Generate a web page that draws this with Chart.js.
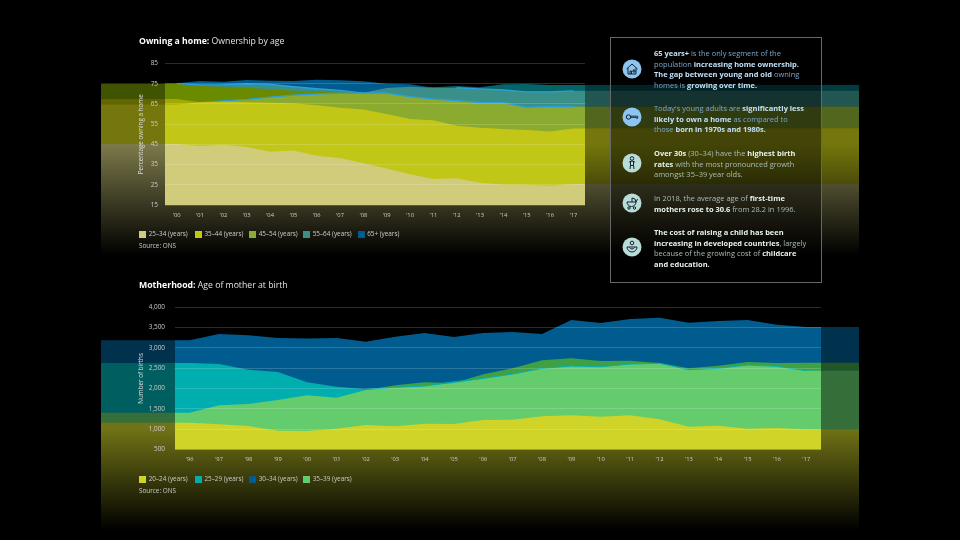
<!DOCTYPE html>
<html lang="en">
<head>
<meta charset="UTF-8">
<title>Owning a home and motherhood</title>
<script src="https://cdn.jsdelivr.net/npm/chart.js@4/dist/chart.umd.min.js"></script>
<style>
    html, body { margin: 0; background: #000; }
    body { width: 960px; height: 540px; position: relative; overflow: hidden; font-family: "Open Sans", sans-serif; color: #ddd; }
    canvas { position: absolute; left: 101px; }
    #homeChart { top: 40px; }
    #birthChart { top: 290px; }
    .title { position: absolute; left: 139px; font-size: 8.7px; line-height: 14px; white-space: nowrap; color: #e4e4e4; }
    .title b { color: #fff; }
    .swatch { position: absolute; width: 7px; height: 7px; }
    .legend, .source { position: absolute; font-size: 6.35px; line-height: 10px; white-space: nowrap; color: #ccc; }
    .panel { position: absolute; left: 610px; top: 37px; width: 210px; height: 244px; border: 1px solid #666; background: rgba(0,0,0,.42); }
    .note { position: absolute; left: 654px; font-size: 7.47px; line-height: 10.6px; white-space: nowrap; }
    .blue { color: #7ba6c9; } .blue b { color: #bfe0f7; }
    .pale { color: #a9bdb6; } .pale b { color: #e6f2ec; }
    .icon { position: absolute; left: 622px; width: 20px; height: 20px; }
</style>
</head>
<body>
<canvas id="homeChart" width="758" height="215"></canvas>
<canvas id="birthChart" width="758" height="240"></canvas>

<div class="title" style="top:34px"><b>Owning a home:</b> Ownership by age</div>
<div class="title" style="top:278px"><b>Motherhood:</b> Age of mother at birth</div>
<div id="homeLegend"></div>
<div id="birthLegend"></div>
<div class="source" style="left:139px;top:241px">Source: ONS</div>
<div class="source" style="left:139px;top:486px">Source: ONS</div>

<div class="panel"></div>
<div class="note blue" style="top:48px"><b>65 years+</b> is the only segment of the<br>population <b>increasing home ownership.<br>The gap between young and old</b> owning<br>homes is <b>growing over time.</b></div>
<div class="note blue" style="top:103px">Today's young adults are <b>significantly less<br>likely to own a home</b> as compared to<br>those <b>born in 1970s and 1980s.</b></div>
<div class="note pale" style="top:148px"><b>Over 30s</b> (30–34) have the <b>highest birth<br>rates</b> with the most pronounced growth<br>amongst 35–39 year olds.</div>
<div class="note pale" style="top:193px">In 2018, the average age of <b>first-time<br>mothers rose to 30.6</b> from 28.2 in 1996.</div>
<div class="note pale" style="top:227px"><b>The cost of raising a child has been<br>increasing in developed countries</b>, largely<br>because of the growing cost of <b>childcare<br>and education.</b></div>

<svg class="icon" style="top:59px" viewBox="0 0 20 20"><circle cx="10" cy="10" r="9.5" fill="#8ec5f0"/><path d="M4.5 10 10 5l5.500 5M6 9v6h8V9M8 15v-3h1.500v3M11 11h2v2h-2z" fill="none" stroke="#123" stroke-width="1"/></svg>
<svg class="icon" style="top:107px" viewBox="0 0 20 20"><circle cx="10" cy="10" r="9.500" fill="#8ec5f0"/><circle cx="6.500" cy="10" r="2.200" fill="none" stroke="#123"/><path d="M8.700 9.200h7v2h-1.500v-.8h-5.500" fill="none" stroke="#123" stroke-width=".9"/></svg>
<svg class="icon" style="top:153px" viewBox="0 0 20 20"><circle cx="10" cy="10" r="9.500" fill="#b9dcd8"/><circle cx="10" cy="5.500" r="1.800" fill="none" stroke="#123"/><path d="M7 9l3-1 3 1M8.500 8.500v4h3v-4M8.500 12.500 8 16M11.500 12.500l.5 3.500" fill="none" stroke="#123"/></svg>
<svg class="icon" style="top:193px" viewBox="0 0 20 20"><circle cx="10" cy="10" r="9.500" fill="#b9dcd8"/><path d="M5 9h9a4.500 4.500 0 0 1-9 0zM10 9V5a4 4 0 0 1 4 4M14 9l1.500-3" fill="none" stroke="#123"/><circle cx="7" cy="15" r="1.200" fill="none" stroke="#123"/><circle cx="12.500" cy="15" r="1.200" fill="none" stroke="#123"/></svg>
<svg class="icon" style="top:237px" viewBox="0 0 20 20"><circle cx="10" cy="10" r="9.500" fill="#b9dcd8"/><circle cx="10" cy="6" r="1.800" fill="none" stroke="#123"/><path d="M5 10h10a5 5 0 0 1-10 0zM7.500 10.500c1 2 4 2 5 0" fill="none" stroke="#123"/></svg>

<script>
    // Ownership by age, percent
    const homeYears = ["'00","'01","'02","'03","'04","'05","'06","'07","'08","'09","'10","'11","'12","'13","'14","'15","'16","'17"];
    const own2534 = [45.2,44.2,44.8,43.7,41.4,41.9,39.4,38.3,35.6,33.1,30.2,27.9,28.2,26,25.2,25,24.5,25.4];
    const own3544 = [67.4,65.8,66.1,65.8,65.6,65.3,64.3,63.1,62.3,60,57.5,56.9,54.2,53.2,52.6,52.1,51.3,52.9];
    const own4554 = [74.9,74.4,74.5,74.9,74.7,73.5,72.5,71.7,70.3,70.3,68.6,67.4,66.6,65.6,65.6,63.3,63.8,63.6];
    const own4554Solid = [74.9,73.9,73.5,73,72.3,71.5,71.2,71,70.3,70.3,68.6,67.4,66.6,65.6,65.6,63.3,63.8,63.6];
    const own5564 = [75.2,76.3,76,76.8,76.5,76.3,77,76.7,76.2,75,74.7,73,73,72.4,71.9,71,71,71.5];
    const own65 = [64.7,65.8,66.5,67.3,68.4,69.4,69.9,70.3,70.5,72.9,73.5,73.2,73.9,73.2,74.7,74.9,74.4,74.4];
    const homeTicks = [15,25,35,45,55,65,75,85];

    // Births by age of mother
    const birthYears = ["'96","'97","'98","'99","'00","'01","'02","'03","'04","'05","'06","'07","'08","'09","'10","'11","'12","'13","'14","'15","'16","'17"];
    const age2024 = [1159,1120,1078,962,955,1012,1103,1071,1135,1127,1226,1233,1317,1341,1307,1341,1243,1061,1086,1012,1029,996];
    const age2529 = [2628,2603,2463,2406,2153,2045,1981,2030,2062,2168,2250,2357,2497,2554,2537,2603,2620,2463,2497,2578,2546,2438];
    const age3034 = [3190,3345,3310,3245,3235,3245,3150,3275,3370,3270,3370,3390,3345,3690,3615,3710,3745,3620,3665,3690,3570,3515];
    const age3539 = [1405,1587,1619,1718,1833,1774,1964,2079,2153,2136,2350,2497,2694,2743,2677,2684,2628,2497,2561,2652,2628,2635];

    const homeLegend = ['25–34 (years)','35–44 (years)','45–54 (years)','55–64 (years)','65+ (years)'];
    const homeLegendColors = ['#d0cc7c','#c2c616','#8aaa30','#3a9088','#005c8f'];
    const birthLegend = ['20–24 (years)','25–29 (years)','30–34 (years)','35–39 (years)'];
    const birthLegendColors = ['#d0d428','#00aeb0','#005c8f','#64cc6c'];

    const BRIGHT = '#2a9fdc';
    const lower = (a, b) => a.map((v, i) => Math.min(v, b[i]));

    // areas run flat out to the plot edges, half a category past first and last year
    function pts(values) {
        const last = values.length - 1;
        return [{x: -0.5, y: values[0]}]
            .concat(values.map((y, x) => ({x, y})))
            .concat([{x: last + 0.5, y: values[last]}]);
    }

    function area(values, color) {
        return { data: pts(values), backgroundColor: color, borderWidth: 0, fill: 'start', pointRadius: 0, tension: 0 };
    }

    // thin edge between two years, no fill
    function edge(values, from, to, color, width) {
        const data = values.map((y, x) => ({x, y})).slice(from, to + 1);
        return { data, borderColor: color, borderWidth: width, fill: false, pointRadius: 0, tension: 0 };
    }

    // the same layers carried on either side of the plot, fading to black
    const strips = {
        id: 'strips',
        beforeDatasetsDraw(chart, args, opts) {
            const {ctx, chartArea: a, scales: {y}} = chart;
            const W = chart.width, H = chart.height;
            ctx.save();
            chart.data.datasets.filter(ds => ds.fill).forEach(ds => {
                ctx.fillStyle = ds.backgroundColor;
                const yl = y.getPixelForValue(ds.data[0].y);
                const yr = y.getPixelForValue(ds.data[ds.data.length - 1].y);
                ctx.fillRect(0, yl, a.left, H - yl);
                ctx.fillRect(a.right, yr, W - a.right, H - yr);
                ctx.fillRect(a.left, a.bottom, a.right - a.left, H - a.bottom);
            });
            const g = ctx.createLinearGradient(0, opts.fadeFrom, 0, H);
            g.addColorStop(0, 'rgba(0,0,0,' + opts.alpha + ')');
            g.addColorStop(1, 'rgba(0,0,0,1)');
            ctx.fillStyle = g;
            ctx.fillRect(0, 0, a.left, H);
            ctx.fillRect(a.right, 0, W - a.right, H);
            ctx.fillRect(a.left, a.bottom, a.right - a.left, H - a.bottom);
            ctx.restore();
        }
    };

    function makeChart(id, datasets, cfg) {
        // later layers go on top
        datasets.forEach((d, i) => { d.order = -i; });
        return new Chart(document.getElementById(id), {
            type: 'line',
            data: { datasets },
            plugins: [strips],
            options: {
                responsive: false,
                animation: false,
                layout: { padding: cfg.padding },
                plugins: { legend: { display: false }, tooltip: { enabled: false }, strips: cfg.strip },
                scales: {
                    x: {
                        type: 'linear',
                        min: -0.5,
                        max: cfg.labels.length - 0.5,
                        grid: { display: false, drawTicks: false },
                        border: { display: false },
                        afterFit: s => { s.height = cfg.padding.xHeight; },
                        afterBuildTicks: s => { s.ticks = cfg.labels.map((l, i) => ({value: i})); },
                        ticks: {
                            autoSkip: false, maxRotation: 0, padding: 6.5, color: '#ccc', z: 1,
                            font: { family: 'Open Sans', size: 5.8 },
                            callback: v => cfg.labels[v]
                        }
                    },
                    y: {
                        min: cfg.min,
                        max: cfg.max,
                        border: { display: false },
                        grid: { color: 'rgba(255,255,255,.17)', lineWidth: 1, z: 1, drawTicks: false },
                        afterFit: s => { s.width = cfg.yWidth; },
                        ticks: {
                            stepSize: cfg.step, padding: cfg.tickGap, color: '#ccc', z: 1,
                            font: { family: 'Open Sans', size: 6.4 },
                            callback: v => v.toLocaleString('en-GB')
                        },
                        title: {
                            display: true, text: cfg.yTitle, color: '#ddd',
                            font: { family: 'Open Sans', size: 6.3 },
                            padding: { top: cfg.titleGap, bottom: 0 }
                        }
                    }
                }
            }
        });
    }

    makeChart('homeChart', [
        area(own65, '#056468'),
        area(own5564, '#005c8f'),
        area(lower(own5564, own65), '#3a9088'),
        edge(own5564, 12, 17, BRIGHT, 1.3),
        area(own4554, '#3a9088'),
        edge(own4554, 0, 17, BRIGHT, 1.3),
        area(own4554Solid, '#6a8a00'),
        area(lower(own65, own4554), '#8aaa30'),
        edge(lower(own65, own4554), 0, 17, BRIGHT, 1.3),
        area(own3544, '#a5a800'),
        area(lower(own3544, own65), '#c2c616'),
        area(own2534, '#d0cc7c')
    ], {
        labels: homeYears, min: homeTicks[0], max: homeTicks[homeTicks.length - 1], step: 10,
        padding: { left: 0, right: 274, top: 23.5, bottom: 0, xHeight: 50 },
        yWidth: 64, tickGap: 7, titleGap: 36, yTitle: 'Percentage owning a home',
        strip: { fadeFrom: 104, alpha: 0.4 }
    });

    makeChart('birthChart', [
        area(age3034, '#005c8f'),
        area(age3539, '#3fa044'),
        area(age2529, '#00aeb0'),
        area(lower(age2529, age3539), '#64cc6c'),
        edge(age2529, 6, 21, '#00aeb0', 0.9),
        area(age2024, '#d0d428')
    ], {
        labels: birthYears, min: 500, max: 4000, step: 500,
        padding: { left: 0, right: 38, top: 17.3, bottom: 0, xHeight: 80.5 },
        yWidth: 74, tickGap: 10, titleGap: 36, yTitle: 'Number of births',
        strip: { fadeFrom: 139, alpha: 0.46 }
    });

    // legends sit over the fading band, spaced as in the original
    const legendX = [139, 194.7, 249, 303, 357.5];
    function fillLegend(id, names, colors, top) {
        const box = document.getElementById(id);
        names.forEach((name, i) => {
            box.insertAdjacentHTML('beforeend',
                '<div class="swatch" style="left:' + legendX[i] + 'px;top:' + (top - 3.5) + 'px;background:' + colors[i] + '"></div>' +
                '<div class="legend" style="left:' + (legendX[i] + 9.700) + 'px;top:' + (top - 5) + 'px">' + name + '</div>');
        });
    }
    fillLegend('homeLegend', homeLegend, homeLegendColors, 234);
    fillLegend('birthLegend', birthLegend, birthLegendColors, 479);
</script>
</body>
</html>
